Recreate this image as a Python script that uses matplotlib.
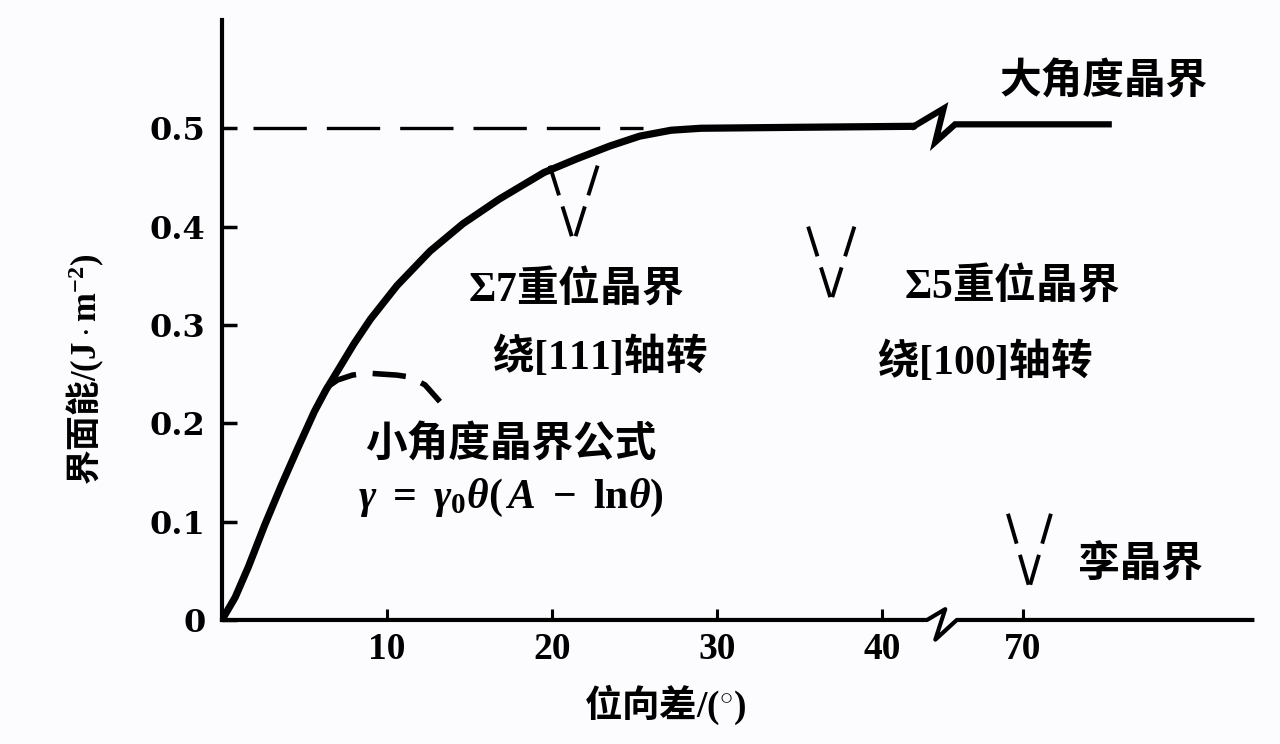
import matplotlib.pyplot as plt

plt.rcParams['font.family'] = ['Noto Sans CJK SC', 'DejaVu Sans']
plt.rcParams['mathtext.fontset'] = 'custom'
plt.rcParams['mathtext.rm'] = 'Liberation Serif:bold'
plt.rcParams['mathtext.it'] = 'Liberation Serif:italic:bold'
plt.rcParams['mathtext.bf'] = 'Liberation Serif:bold'

# Grain boundary energy vs misorientation
theta = [0, 0.8, 1.6, 2.6, 3.6, 4.6, 5.6, 6.3, 7.1, 8.0, 9.0, 10.6, 12.6,
         14.6, 16.8, 19.5, 21.5, 23.5, 25.3, 27.2, 29.0, 35.0, 41.9]
energy = [0, 0.023, 0.054, 0.097, 0.137, 0.175, 0.212, 0.234, 0.256, 0.281,
          0.306, 0.340, 0.375, 0.403, 0.428, 0.455, 0.469, 0.482, 0.492,
          0.498, 0.5, 0.501, 0.502]

# small angle formula branch (dashed)
small_theta = [6.3, 7.0, 7.9, 8.8, 10.6, 11.4, 12.3, 13.2]
small_energy = [0.236, 0.244, 0.249, 0.251, 0.249, 0.247, 0.239, 0.222]

high_angle_level = 0.5

xtick_vals = [10, 20, 30, 40, 70]
ytick_vals = [0, 0.1, 0.2, 0.3, 0.4, 0.5]
ytick_labels = ['0', '0.1', '0.2', '0.3', '0.4', '0.5']


# position on the broken x axis
def xpos(deg):
    if deg <= 44:
        return deg
    return 48.5 + (deg - 70) * 0.5


bg = '#fcfcfe'
fig = plt.figure(figsize=(12.8, 7.44), dpi=100, facecolor=bg)
ax = fig.add_axes([0.1734, 0.1667, 0.805, 0.8063])
ax.set_facecolor(bg)
ax.set_xlim(0, 62.4)
ax.set_ylim(0, 0.61)

# main curve
ax.plot(theta, energy, color='black', lw=5.2, solid_capstyle='round',
        solid_joinstyle='round', zorder=3)

# top line with break, continuing to the right
ax.plot([41.9, 43.7, 43.2, 44.4, 53.7],
        [0.502, 0.52, 0.486, 0.504, 0.504],
        color='black', lw=4.5, solid_joinstyle='miter', zorder=3)

# dashed 0.5 reference
ax.plot([1.9, 25.5], [high_angle_level, high_angle_level], color='black',
        lw=2.4, dashes=(16, 6), zorder=2)

# small angle branch
ax.plot(small_theta, small_energy, color='black', lw=4, dashes=(6, 3),
        zorder=2)

# x axis with break
ax.plot([0, 42.7, 43.8, 43.2, 44.5, 62.4],
        [0, 0, 0.011, -0.02, 0, 0],
        color='black', lw=3, clip_on=False, zorder=4)


# dashed cusp markers (V shapes)
def cusp(x_tip, y_tip, half_w, h):
    ax.plot([x_tip - half_w, x_tip], [y_tip + h, y_tip], color='black',
            lw=2.8, dashes=(8, 3), zorder=2)
    ax.plot([x_tip + half_w, x_tip], [y_tip + h, y_tip], color='black',
            lw=2.8, dashes=(8, 3), zorder=2)


cusp(21.3, 0.384, 1.45, 0.078)   # sigma 7
cusp(36.9, 0.325, 1.4, 0.075)    # sigma 5
cusp(xpos(70) + 0.4, 0.033, 1.3, 0.075)  # twin

# axes styling
for s in ['top', 'right', 'bottom']:
    ax.spines[s].set_visible(False)
ax.spines['left'].set_linewidth(3)

ax.set_xticks([xpos(v) for v in xtick_vals])
ax.set_xticklabels([str(v) for v in xtick_vals])
ax.set_yticks(ytick_vals)
ax.set_yticklabels(ytick_labels)
ax.tick_params(axis='y', direction='in', length=11, width=2.5, pad=12)
ax.tick_params(axis='x', direction='in', length=8, width=2.2, pad=9)
for lab in ax.get_yticklabels():
    lab.set_family('DejaVu Serif')
    lab.set_fontweight('bold')
    lab.set_fontsize(23)
for lab in ax.get_xticklabels():
    lab.set_family('Liberation Serif')
    lab.set_fontweight('bold')
    lab.set_fontsize(27)

ax.set_xlabel(r'位向差$/(^{\circ})$', fontsize=27, fontweight='bold',
              va='center')
ax.xaxis.set_label_coords(0.43, -0.142)
ax.set_ylabel(r'界面能$/(\mathrm{J\cdot m^{-2}})$', fontsize=25,
              fontweight='bold', va='center')
ax.yaxis.set_label_coords(-0.133, 0.417)

txt = dict(fontsize=30, fontweight='heavy', ha='center', va='center')
ax.text(53.4, 0.547, '大角度晶界', **txt)
ax.text(21.4, 0.338, r'$\Sigma7$重位晶界', **txt)
ax.text(22.9, 0.269, r'绕$[111]$轴转', **txt)
ax.text(47.8, 0.341, r'$\Sigma5$重位晶界', **txt)
ax.text(46.2, 0.264, r'绕$[100]$轴转', **txt)
ax.text(17.5, 0.178, '小角度晶界公式', **txt)
ax.text(17.5, 0.124,
        r'$\gamma\ =\ \gamma_0\theta(\,A\ -\ \mathrm{ln}\theta)$',
        fontsize=30, ha='center', va='center')
ax.text(55.6, 0.056, '孪晶界', **txt)

fig.savefig('out.png', dpi=100, facecolor=fig.get_facecolor())
